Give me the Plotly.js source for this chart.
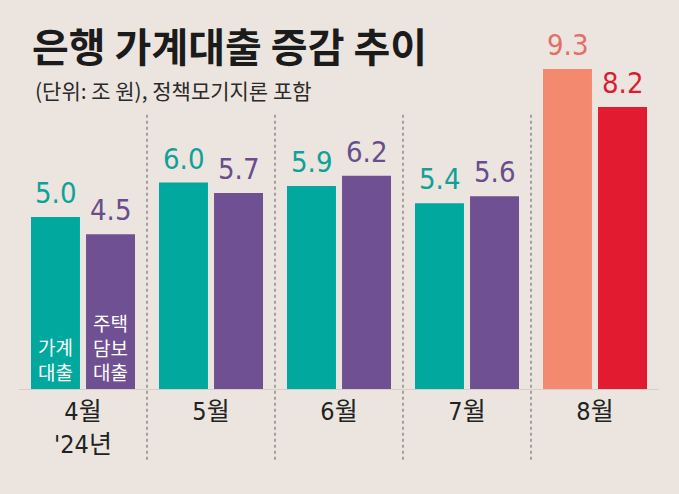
<!DOCTYPE html>
<html>
<head>
<meta charset="utf-8">
<script src="https://cdn.plot.ly/plotly-3.0.1.min.js"></script>
<style>
  html, body { margin: 0; padding: 0; background: #ece5df; }
  #plot { width: 679px; height: 494px; }
</style>
</head>
<body>
<div id="plot"></div>
<script>
const months = ['4월', '5월', '6월', '7월', '8월'];
const tickLabels = ["4월<br>'24년", '5월', '6월', '7월', '8월'];
const householdLoans = [5.0, 6.0, 5.9, 5.4, 9.3];
const mortgageLoans = [4.5, 5.7, 6.2, 5.6, 8.2];
const seriesNames = ['가계<br>대출', '주택<br>담보<br>대출'];

const NUM_FONT = 'DejaVu Sans Condensed, Noto Sans CJK KR, sans-serif';
const KR_FONT = 'Noto Sans CJK KR, sans-serif';

// last month is highlighted in warm colours
const last = months.length - 1;
const tealBars = months.map((m, i) => i === last ? '#f38a6f' : '#00a89d');
const purpleBars = months.map((m, i) => i === last ? '#e31b30' : '#6f5092');
const tealText = months.map((m, i) => i === last ? '#e26f68' : '#0ea296');
const purpleText = months.map((m, i) => i === last ? '#d81d33' : '#694d8c');

const shift = 27.5;

const data = [
    {
        x: months,
        y: householdLoans,
        type: 'bar',
        marker: { color: tealBars },
        hoverinfo: 'skip',
        cliponaxis: false,
    },
    {
        x: months,
        y: mortgageLoans,
        type: 'bar',
        marker: { color: purpleBars },
        hoverinfo: 'skip',
        cliponaxis: false,
    },
];

const valueLabels = (vals, colors, xs) => vals.map((v, i) => ({
    x: months[i],
    y: v,
    xref: 'x',
    yref: 'y',
    text: v.toFixed(1),
    showarrow: false,
    xshift: xs,
    yshift: 5,
    yanchor: 'bottom',
    font: { family: NUM_FONT, size: 29, color: colors[i] },
}));

const annotations = [
    ...valueLabels(householdLoans, tealText, -shift),
    ...valueLabels(mortgageLoans, purpleText, shift),
    {
        x: months[0], y: 0, xref: 'x', yref: 'y',
        text: seriesNames[0], showarrow: false,
        xshift: -shift, yshift: 2, yanchor: 'bottom',
        font: { family: KR_FONT, size: 19, color: 'white' },
    },
    {
        x: months[0], y: 0, xref: 'x', yref: 'y',
        text: seriesNames[1], showarrow: false,
        xshift: shift, yshift: 2, yanchor: 'bottom',
        font: { family: KR_FONT, size: 19, color: 'white' },
    },
    {
        x: 0.022, y: 0.869, xref: 'paper', yref: 'paper',
        text: '(단위: 조 원), 정책모기지론 포함', showarrow: false,
        xanchor: 'left', yanchor: 'middle',
        font: { family: KR_FONT, size: 21, color: '#2a2a2a' },
    },
];

// dotted dividers between months
const shapes = months.slice(1).map((m, i) => ({
    type: 'line',
    xref: 'x',
    yref: 'paper',
    x0: i + 0.5,
    x1: i + 0.5,
    y0: -0.206,
    y1: 0.797,
    line: { color: '#8d8a88', width: 1.5, dash: 'dot' },
}));

const layout = {
    width: 679,
    height: 494,
    margin: { l: 19, r: 20, t: 45, b: 105 },
    paper_bgcolor: '#ece5df',
    plot_bgcolor: '#ece5df',
    showlegend: false,
    barmode: 'group',
    bargap: 0.14,
    bargroupgap: 0.11,
    title: {
        text: '<b>은행 가계대출 증감 추이</b>',
        xref: 'container',
        yref: 'container',
        x: 0.047,
        xanchor: 'left',
        y: 0.903,
        yanchor: 'middle',
        font: { family: KR_FONT, size: 40, color: '#1b1b1b' },
    },
    xaxis: {
        tickvals: months,
        ticktext: tickLabels,
        showgrid: false,
        zeroline: false,
        showline: true,
        linecolor: '#d6cfc9',
        linewidth: 1,
        ticks: '',
        tickfont: { family: NUM_FONT, size: 25, color: '#222' },
        fixedrange: true,
    },
    yaxis: {
        range: [0, 10],
        visible: false,
        fixedrange: true,
    },
    annotations: annotations,
    shapes: shapes,
};

Plotly.newPlot(document.getElementById('plot'), data, layout, { displayModeBar: false, staticPlot: true });
</script>
</body>
</html>
